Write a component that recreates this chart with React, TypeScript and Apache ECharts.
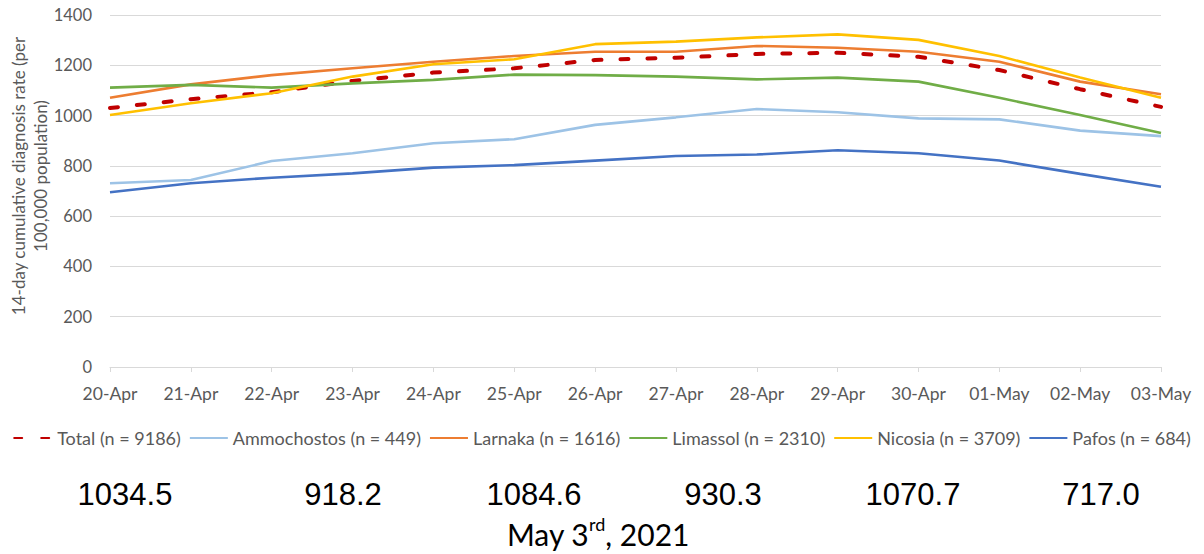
import React, { useEffect, useRef } from "react";
import * as echarts from "echarts";

const categories = [
  "20-Apr", "21-Apr", "22-Apr", "23-Apr", "24-Apr", "25-Apr", "26-Apr",
  "27-Apr", "28-Apr", "29-Apr", "30-Apr", "01-May", "02-May", "03-May",
];

const yTicks = [0, 200, 400, 600, 800, 1000, 1200, 1400];

const totalValues = [1030, 1065, 1093, 1138, 1171, 1188, 1221, 1230, 1245, 1250, 1234, 1181, 1105, 1034.5];
const ammochostosValues = [731, 744, 819, 850, 890, 906, 963, 993, 1026, 1013, 989, 985, 940, 918.2];
const larnakaValues = [1071, 1124, 1161, 1188, 1214, 1237, 1254, 1254, 1277, 1270, 1254, 1214, 1135, 1084.6];
const limassolValues = [1111, 1122, 1111, 1128, 1142, 1163, 1161, 1155, 1144, 1151, 1135, 1071, 1002, 930.3];
const nicosiaValues = [1002, 1049, 1089, 1155, 1204, 1224, 1284, 1294, 1311, 1323, 1301, 1237, 1151, 1070.7];
const pafosValues = [695, 731, 753, 770, 793, 803, 821, 839, 845, 862, 850, 821, 768, 717.0];

const seriesNames = [
  "Total (n = 9186)",
  "Ammochostos (n = 449)",
  "Larnaka (n = 1616)",
  "Limassol (n = 2310)",
  "Nicosia (n = 3709)",
  "Pafos (n = 684)",
];

const latestLabels = ["1034.5", "918.2", "1084.6", "930.3", "1070.7", "717.0"];
const latestLabelX = [125, 343, 534, 723, 913, 1101];

const yAxisTitle = ["14-day cumulative diagnosis rate (per", "100,000 population)"];
const dateCaption = { pre: "May 3", sup: "rd", post: ", 2021" };

export default function App() {
  const ref = useRef<HTMLDivElement>(null);

  useEffect(() => {
    if (!ref.current) return;
    const chart = echarts.init(ref.current, null, { renderer: "svg" });
    const gray = "#595959";
    const font = "Lato";
    const mk = (name: string, data: number[], color: string, extra: any = {}) => ({
      name,
      type: "line",
      data,
      symbol: "none",
      showSymbol: false,
      lineStyle: { color, width: 2.6, ...extra },
      itemStyle: { color },
      emphasis: { disabled: true },
    });
    chart.setOption({
      animation: false,
      grid: { left: 110, right: 43, top: 15, bottom: 187, containLabel: false },
      legend: {
        bottom: 102,
        left: "center",
        itemWidth: 38,
        itemHeight: 10,
        itemGap: 8,
        itemStyle: { opacity: 0 },
        textStyle: { color: gray, fontSize: 18, fontFamily: font },
        data: seriesNames,
      },
      xAxis: {
        type: "category",
        data: categories,
        boundaryGap: false,
        axisLine: { lineStyle: { color: "#d9d9d9", width: 1 } },
        axisTick: { show: true, alignWithLabel: true, length: 5, lineStyle: { color: "#d9d9d9" } },
        axisLabel: { color: gray, fontSize: 17.5, fontFamily: font, margin: 17, interval: 0 },
        splitLine: { show: false },
      },
      yAxis: {
        type: "value",
        min: yTicks[0],
        max: yTicks[yTicks.length - 1],
        interval: 200,
        axisLine: { show: false },
        axisTick: { show: false },
        axisLabel: {
          color: gray,
          fontSize: 16.5,
          fontFamily: font,
          margin: 18,
          formatter: (v: number) => String(v),
        },
        splitLine: { lineStyle: { color: "#d9d9d9", width: 1 } },
      },
      series: [
        mk(seriesNames[0], totalValues, "#C00000", { width: 4, type: [8, 19], cap: "round" }),
        mk(seriesNames[1], ammochostosValues, "#9DC3E6"),
        mk(seriesNames[2], larnakaValues, "#ED7D31"),
        mk(seriesNames[3], limassolValues, "#70AD47"),
        mk(seriesNames[4], nicosiaValues, "#FFC000"),
        mk(seriesNames[5], pafosValues, "#4472C4"),
      ],
      graphic: [
        {
          type: "text",
          x: 29,
          y: 176,
          rotation: Math.PI / 2,
          style: {
            text: yAxisTitle.join("\n"),
            align: "center",
            verticalAlign: "middle",
            lineHeight: 22,
            fill: gray,
            fontSize: 17,
            fontFamily: font,
          },
        },
        ...latestLabels.map((t, i) => ({
          type: "text",
          x: latestLabelX[i],
          y: 494,
          style: {
            text: t,
            align: "center",
            verticalAlign: "middle",
            fill: "#000",
            fontSize: 31,
            fontFamily: "Liberation Sans",
          },
        })),
        {
          type: "text",
          x: 598,
          y: 532,
          style: {
            text: `{m|${dateCaption.pre}}{s|${dateCaption.sup}}{m|${dateCaption.post}}`,
            align: "center",
            verticalAlign: "middle",
            rich: {
              m: { fontSize: 30, fontFamily: font, fill: "#000", lineHeight: 34, verticalAlign: "bottom" },
              s: { fontSize: 18, fontFamily: font, fill: "#000", lineHeight: 34, verticalAlign: "top", padding: [0, 0, 14, 0] },
            },
          },
        },
      ],
    });
    return () => chart.dispose();
  }, []);

  return <div ref={ref} style={{ width: 1204, height: 554, position: "absolute", left: 0, top: 0 }} />;
}
